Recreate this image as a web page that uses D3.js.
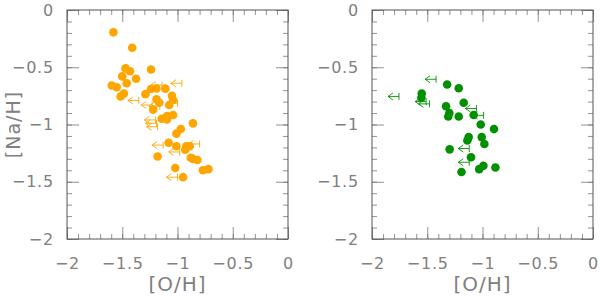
<!DOCTYPE html>
<html>
<head>
<meta charset="utf-8">
<script src="https://cdn.jsdelivr.net/npm/d3@7"></script>
<style>
  body { margin: 0; background: #fff; }
  text { font-family: "DejaVu Sans", sans-serif; fill: #808080; }
</style>
</head>
<body>
<svg id="chart" width="600" height="297"></svg>
<script>
// detections, left panel (orange)
let leftO = [-1.58, -1.41, -1.47, -1.43, -1.50, -1.375, -1.24, -1.46, -1.595, -1.55, -1.485, -1.515, -1.29, -1.24, -1.19, -1.11,
  -1.19, -1.165, -1.05, -1.04, -1.075, -1.22, -1.04, -1.095, -1.143, -1.095, -0.86, -0.97, -1.01, -1.08, -1.01, -0.92,
  -0.93, -0.89, -1.18, -0.88, -0.86, -0.82, -1.02, -0.77, -0.72, -0.95];
let leftNa = [-0.195, -0.33, -0.51, -0.535, -0.58, -0.60, -0.52, -0.64, -0.66, -0.675, -0.73, -0.755, -0.735, -0.69, -0.685, -0.687,
  -0.78, -0.81, -0.75, -0.786, -0.83, -0.87, -0.917, -0.926, -0.95, -0.955, -0.99, -1.04, -1.08, -1.16, -1.19, -1.19,
  -1.22, -1.19, -1.28, -1.29, -1.30, -1.31, -1.38, -1.40, -1.39, -1.46];
// upper limits on [O/H], left panel
let leftLimO = [-1.14, -0.96, -1.35, -1.23, -1.16, -1.0, -1.2, -1.19, -1.18, -1.13, -0.98, -0.80, -1.0];
let leftLimNa = [-0.655, -0.64, -0.79, -0.83, -0.84, -0.815, -0.96, -0.99, -1.02, -1.18, -1.24, -1.17, -1.46];

// detections, right panel (green)
let rightO = [-1.32, -1.215, -1.55, -1.553, -1.17, -1.33, -1.30, -1.31, -1.215, -1.08, -1.016, -0.896, -1.125, -1.007,
  -1.137, -0.983, -1.297, -1.104, -0.992, -1.03, -0.883, -1.19];
let rightNa = [-0.65, -0.684, -0.73, -0.766, -0.81, -0.84, -0.90, -0.93, -0.93, -0.917, -1.0, -1.04, -1.11, -1.11,
  -1.14, -1.17, -1.217, -1.286, -1.36, -1.39, -1.375, -1.415];
// upper limits on [O/H], right panel
let rightLimO = [-1.42, -1.756, -1.48, -1.51, -1.055, -0.99, -1.12, -1.12];
let rightLimNa = [-0.605, -0.755, -0.82, -0.80, -0.86, -0.92, -1.21, -1.33];

// axis ticks
let majorTicks = [-2, -1.5, -1, -0.5, 0];
let tickLabels = ["\u22122", "\u22121.5", "\u22121", "\u22120.5", "0"];
let minorTicks = d3.range(-2, 0.001, 0.1);

let svg = d3.select("#chart");

let margin = { top: 10, bottom: 58 },
  panelW = 221,
  height = 297 - margin.top - margin.bottom;

let panels = [
  { left: 67, o: leftO, na: leftNa, limO: leftLimO, limNa: leftLimNa, color: "#ffa500", ylabel: true },
  { left: 372, o: rightO, na: rightNa, limO: rightLimO, limNa: rightLimNa, color: "#009000", ylabel: false },
];

panels.forEach((p) => {
  let g = svg.append("g").attr("transform", "translate(" + p.left + "," + margin.top + ")");

  let x = d3.scaleLinear().domain([-2, 0]).range([0, panelW]);
  let y = d3.scaleLinear().domain([-2, 0]).range([height, 0]);

  // ticks pointing inward on all four sides
  function drawAxis(axisFn, scale, transform, size, values, labels) {
    let a = g.append("g").attr("transform", transform)
      .call(axisFn(scale).tickValues(values).tickSize(size).tickSizeOuter(0)
        .tickFormat((d, i) => (labels ? labels[i] : "")));
    a.select(".domain").remove();
    a.selectAll("line").attr("stroke", "#777").attr("stroke-width", 0.8);
    return a;
  }
  drawAxis(d3.axisBottom, x, `translate(0,${height})`, -5, minorTicks);
  drawAxis(d3.axisTop, x, "translate(0,0)", -5, minorTicks);
  drawAxis(d3.axisLeft, y, "translate(0,0)", -5, minorTicks);
  drawAxis(d3.axisRight, y, `translate(${panelW},0)`, -5, minorTicks);
  drawAxis(d3.axisTop, x, "translate(0,0)", -12, majorTicks);
  drawAxis(d3.axisRight, y, `translate(${panelW},0)`, -12, majorTicks);

  let xa = drawAxis(d3.axisBottom, x, `translate(0,${height})`, -12, majorTicks, tickLabels);
  xa.selectAll("text").attr("y", 19).attr("font-size", 16).attr("letter-spacing", 0.8);
  let ya = drawAxis(d3.axisLeft, y, "translate(0,0)", -12, majorTicks, tickLabels);
  ya.selectAll("text").attr("x", -13).attr("font-size", 16).attr("letter-spacing", 0.8);
  g.selectAll(".tick text").attr("font-family", null).attr("fill", null);

  // frame
  g.append("rect")
    .attr("width", panelW)
    .attr("height", height)
    .attr("fill", "none")
    .attr("stroke", "#555")
    .attr("stroke-width", 1);

  // x label
  g.append("text")
    .attr("x", panelW / 2)
    .attr("y", height + 52)
    .attr("text-anchor", "middle")
    .attr("font-size", 20)
    .attr("letter-spacing", 1)
    .text("[O/H]");

  if (p.ylabel) {
    g.append("text")
      .attr("transform", `translate(-47,${height / 2}) rotate(-90)`)
      .attr("text-anchor", "middle")
      .attr("font-size", 19)
      .attr("letter-spacing", 1)
      .text("[Na/H]");
  }

  // upper limits: "<--|"
  g.append("g")
    .selectAll("path")
    .data(p.limO.map((d, i) => [d, p.limNa[i]]))
    .enter()
    .append("path")
    .attr("transform", (d) => `translate(${x(d[0])},${y(d[1])})`)
    .attr("d", "M0,-3.5V3.5M0,0H-11M-6,-3.5L-11,0L-6,3.5")
    .attr("fill", "none")
    .attr("stroke", p.color)
    .attr("stroke-width", 0.9);

  // detections
  g.append("g")
    .selectAll("circle")
    .data(p.o.map((d, i) => [d, p.na[i]]))
    .enter()
    .append("circle")
    .attr("cx", (d) => x(d[0]))
    .attr("cy", (d) => y(d[1]))
    .attr("r", 4.3)
    .attr("fill", p.color);
});
</script>
</body>
</html>
